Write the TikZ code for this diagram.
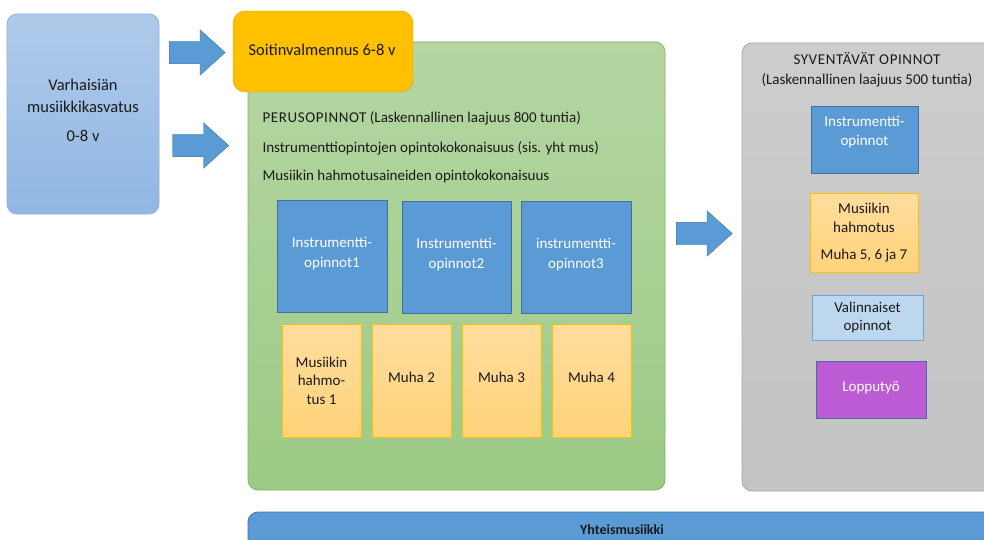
\documentclass[tikz,border=0pt]{standalone}
\usepackage{fontspec}
\setmainfont{Carlito}
\usetikzlibrary{shapes.arrows}

\definecolor{accblue}{HTML}{5B9BD5}
\definecolor{accblueline}{HTML}{41719C}
\definecolor{gold}{HTML}{FFC000}
\definecolor{goldline}{HTML}{D6A300}
\definecolor{txt}{HTML}{1A1A1A}
\definecolor{greentop}{HTML}{B4D6A2}
\definecolor{greenbot}{HTML}{9DCA86}
\definecolor{greenline}{HTML}{7EB463}
\definecolor{skytop}{HTML}{AFCAEA}
\definecolor{skybot}{HTML}{91B7E2}
\definecolor{skyline}{HTML}{8DB3DE}
\definecolor{muhatop}{HTML}{FFDD9E}
\definecolor{muhabot}{HTML}{FFD37A}
\definecolor{greytop}{HTML}{CDCDCD}
\definecolor{greybot}{HTML}{C3C3C3}
\definecolor{greyline}{HTML}{A8A8A8}
\definecolor{paleblue}{HTML}{BDD7EE}
\definecolor{palebline}{HTML}{6FA3D8}
\definecolor{lilac}{HTML}{BC5CD5}

\newcommand{\wcaps}[1]{{\addfontfeature{LetterSpace=4}#1}}

\tikzset{
  blockarrow/.style={single arrow, fill=accblue, draw=accblueline, inner xsep=0pt, inner ysep=11pt,
    minimum height=56pt, minimum width=45pt, single arrow head extend=11.5pt,
    single arrow tip angle=84},
  instrbox/.style={draw=accblueline, fill=accblue, text=white, align=center},
  muhabox/.style={draw=gold, top color=muhatop, bottom color=muhabot, text=txt, align=center},
  panel/.style={rounded corners=10pt, line width=0.8pt}
}

\begin{document}
\begin{tikzpicture}[x=1pt, y=-1pt, every node/.style={font=\fontsize{15}{20}\selectfont, text=txt}]
  \useasboundingbox (0,0) rectangle (984,540);
  \clip (0,0) rectangle (984,540);

  % varhaisian musiikkikasvatus
  \node (varh) [panel, draw=skyline, top color=skytop, bottom color=skybot,
    minimum width=152pt, minimum height=200pt, align=center, font=\fontsize{16.5}{22}\selectfont] at (83,114)
    {Varhaisiän\\musiikkikasvatus\\[7pt]0-8 v\\[-14pt]};

  \node (arr1) [blockarrow] at (191,52.5) {};
  \node (arr2) [blockarrow] at (194.5,145.5) {};

  % perusopinnot
  \node (perus) [panel, draw=greenline, top color=greentop, bottom color=greenbot,
    minimum width=417pt, minimum height=448pt] at (456.5,266) {};
  \node (soitin) [rounded corners=12pt, draw=goldline, fill=gold, minimum width=180pt, minimum height=81pt] at (323,51.5) {};
  \node (soitinlbl) [anchor=west, font=\fontsize{16.5}{20}\selectfont] at (245,50) {Soitinvalmennus 6-8 v};

  \node (perus1) [anchor=west] at (259,118) {\wcaps{PERUSOPINNOT} (Laskennallinen laajuus 800 tuntia)};
  \node (perus2) [anchor=west] at (259,148) {Instrumenttiopintojen opintokokonaisuus (sis. yht mus)};
  \node (perus3) [anchor=west] at (259,177) {Musiikin hahmotusaineiden opintokokonaisuus};

  \node (in1) [instrbox, minimum width=110pt, minimum height=112pt] at (332,256) {Instrumentti-\\opinnot1\\[-12pt]};
  \node (in2) [instrbox, minimum width=109pt, minimum height=112pt] at (456.5,257) {Instrumentti-\\opinnot2\\[-12pt]};
  \node (in3) [instrbox, minimum width=110pt, minimum height=112pt] at (576,257) {instrumentti-\\opinnot3\\[-12pt]};

  \foreach \x/\t [count=\i] in {321.5/{Musiikin\\hahmo-\\tus 1}, 411.5/Muha 2, 501.5/Muha 3, 591.5/Muha 4}
    \node (muha\i) [muhabox, minimum width=79pt, minimum height=113pt, font=\fontsize{15}{18.5}\selectfont]
      at (\x,380.5) {\raisebox{7pt}{\parbox{70pt}{\centering\t}}};

  \node (arr3) [blockarrow] at (698,233.5) {};

  % syventavat opinnot
  \node (syv) [panel, draw=greyline, top color=greytop, bottom color=greybot,
    minimum width=258pt, minimum height=448pt] at (871,267) {};
  \node (syvlbl) [align=center] at (867,70)
    {\wcaps{SYVENTÄVÄT OPINNOT}\\(Laskennallinen laajuus 500 tuntia)};

  \node (sin) [instrbox, minimum width=107pt, minimum height=67pt, font=\fontsize{15}{19}\selectfont] at (864.5,139.5)
    {Instrumentti-\\opinnot\\[-1pt]};
  \node (smuha) [muhabox, minimum width=108pt, minimum height=79pt, font=\fontsize{15}{19}\selectfont] at (864,232.5)
    {Musiikin\\hahmotus\\[8pt]Muha 5, 6 ja 7};
  \node (val) [draw=palebline, fill=paleblue, align=center, minimum width=111pt, minimum height=45pt,
    font=\fontsize{15}{18}\selectfont] at (867.5,317.5) {Valinnaiset\\opinnot};
  \node (lop) [draw=accblueline, fill=lilac, text=white, minimum width=110pt, minimum height=57pt] at (871,389.5)
    {\raisebox{6pt}{Lopputyö}};

  % yhteismusiikki
  \node (yht) [panel, draw=accblueline, fill=accblue, minimum width=752pt, minimum height=58pt] at (624,541) {};
  \node (yhtlbl) [font=\fontsize{14}{16}\bfseries] at (622,530) {Yhteismusiikki};
\end{tikzpicture}
\end{document}
